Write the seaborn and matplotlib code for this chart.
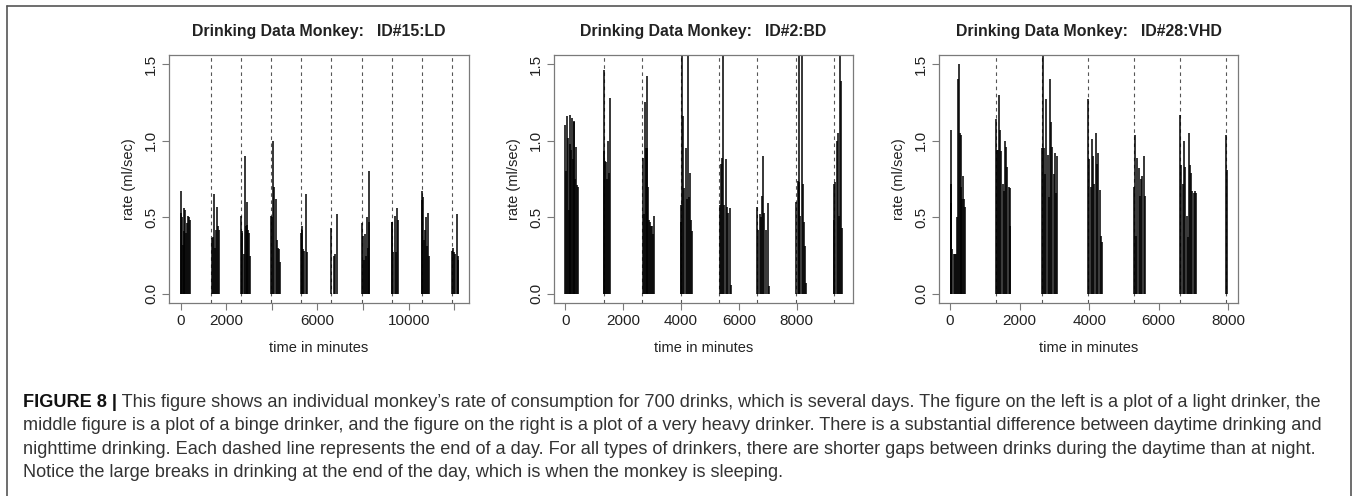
import matplotlib
matplotlib.use("Agg")
import matplotlib.pyplot as plt
from matplotlib.lines import Line2D
import pandas as pd
import seaborn as sns

# ---- drink events: time (minutes) and rate (ml/sec) for each monkey ----
ld_minutes = [0, 29, 73, 102, 132, 161, 205, 234, 278, 322, 365, 409,
              1374, 1418, 1462, 1520, 1564, 1608, 1652, 1696,
              2646, 2676, 2705, 2763, 2807, 2851, 2895, 2924, 2968, 3012, 3056,
              3977, 4020, 4064, 4108, 4167, 4211, 4254, 4298, 4357,
              5292, 5310, 5336, 5380, 5424, 5512, 5541,
              6608, 6725, 6769, 6871,
              7939, 7983, 8026, 8070, 8114, 8158, 8202, 8246, 8275,
              9254, 9284, 9327, 9386, 9430, 9474, 9547,
              10570, 10585, 10614, 10673, 10716, 10760, 10804, 10848, 10892,
              11901, 11959, 12003, 12047, 12105, 12149, 12179]
ld_rate = [0.67, 0.53, 0.50, 0.32, 0.41, 0.56, 0.55, 0.40, 0.46, 0.51, 0.50, 0.485,
           0.365, 0.37, 0.65, 0.30, 0.42, 0.57, 0.44, 0.42,
           0.51, 0.40, 0.41, 0.26, 0.90, 0.44, 0.60, 0.45, 0.42, 0.40, 0.245,
           0.51, 0.50, 1.00, 0.70, 0.62, 0.35, 0.30, 0.29, 0.21,
           0.40, 0.42, 0.44, 0.29, 0.28, 0.65, 0.27,
           0.43, 0.25, 0.26, 0.52,
           0.46, 0.38, 0.22, 0.39, 0.245, 0.50, 0.30, 0.80, 0.47,
           0.47, 0.47, 0.27, 0.51, 0.27, 0.56, 0.485,
           0.61, 0.67, 0.63, 0.35, 0.42, 0.50, 0.31, 0.53, 0.245,
           0.28, 0.30, 0.27, 0.26, 0.52, 0.245, 0.22]
ld_day_ends = [1322, 2645, 3968, 5284, 6606, 7938, 9247, 10570, 11892]

bd_minutes = [0, 23, 57, 92, 115, 149, 172, 207, 230, 264, 287, 310, 344, 367, 402, 425,
              1332, 1343, 1378, 1412, 1447, 1470, 1504, 1561,
              2675, 2721, 2755, 2790, 2813, 2836, 2870, 2905, 2928, 2962, 2985, 3019, 3065,
              3995, 4018, 4052, 4087, 4121, 4167, 4213, 4248, 4282, 4316, 4351, 4397,
              5338, 5384, 5430, 5464, 5487, 5545, 5602, 5637, 5683, 5717,
              6636, 6681, 6716, 6762, 6808, 6842, 6888, 6946, 7003, 7049,
              7979, 8036, 8070, 8093, 8128, 8174, 8208, 8254, 8289, 8323,
              9276, 9299, 9333, 9379, 9425, 9448, 9494, 9540, 9574]
bd_rate = [1.10, 0.80, 1.16, 1.02, 0.55, 0.98, 1.165, 0.94, 1.15, 0.88, 1.13, 1.12, 0.75, 0.96, 0.71, 0.70,
           0.93, 1.46, 0.87, 0.86, 0.75, 1.00, 0.79, 1.28,
           0.89, 0.52, 1.25, 0.95, 1.42, 0.95, 0.70, 0.48, 0.47, 0.44, 0.44, 0.39, 0.51,
           0.58, 0.47, 1.80, 1.16, 0.69, 0.95, 0.62, 1.90, 0.63, 0.79, 0.48, 0.41,
           0.58, 0.85, 0.885, 1.90, 0.58, 0.88, 0.57, 0.53, 0.56, 0.06,
           0.57, 0.42, 0.52, 0.50, 0.64, 0.90, 0.53, 0.42, 0.59, 0.05,
           0.60, 0.74, 1.85, 0.73, 0.51, 1.85, 0.72, 0.47, 0.31, 0.07,
           0.48, 0.72, 0.73, 1.00, 1.05, 0.51, 1.90, 1.39, 0.43]
bd_day_ends = [1340, 2662, 3986, 5304, 6626, 7966, 9278]

vhd_minutes = [19, 29, 38, 67, 105, 144, 172, 192, 220, 249, 278, 307, 326, 355, 383, 412, 431,
               1322, 1351, 1389, 1418, 1447, 1475, 1514, 1552, 1581, 1619, 1648, 1686, 1715, 1734,
               2654, 2663, 2692, 2730, 2769, 2807, 2845, 2884, 2912, 2941, 2979, 3018, 3056, 3075,
               3976, 4004, 4043, 4081, 4110, 4148, 4187, 4225, 4263, 4301, 4330, 4369,
               5298, 5326, 5355, 5384, 5422, 5461, 5489, 5528, 5566, 5595,
               6620, 6649, 6687, 6735, 6764, 6802, 6831, 6869, 6898, 6926, 6965, 7003, 7032, 7061,
               7942, 7961]
vhd_rate = [1.07, 0.72, 0.59, 0.29, 0.26, 0.26, 0.26, 0.50, 1.40, 1.50, 1.05, 1.04, 0.70, 0.62, 0.77, 0.62, 0.57,
            1.14, 0.94, 0.94, 1.30, 1.07, 0.93, 0.72, 0.67, 1.00, 0.96, 0.83, 0.70, 0.69, 0.44,
            0.95, 1.58, 0.95, 0.78, 1.27, 0.91, 0.63, 1.40, 1.12, 0.96, 0.78, 0.92, 0.66, 0.90,
            1.27, 0.88, 0.70, 1.01, 0.90, 0.72, 1.05, 0.85, 0.92, 0.68, 0.38, 0.34,
            0.70, 1.04, 0.38, 0.89, 0.82, 0.64, 0.75, 0.77, 0.90, 0.64,
            1.17, 0.84, 0.72, 1.00, 0.83, 0.51, 0.37, 1.05, 0.84, 0.79, 0.67, 0.66, 0.67, 0.66,
            1.04, 0.81]
vhd_day_ends = [1326, 2654, 3976, 5294, 6620, 7942]

monkeys = ["ID#15:LD", "ID#2:BD", "ID#28:VHD"]
x_ticks = [list(range(0, 12001, 2000)), list(range(0, 8001, 2000)), list(range(0, 8001, 2000))]
x_tick_labels = [["0", "2000", "", "6000", "", "10000", ""],
                 ["0", "2000", "4000", "6000", "8000"],
                 ["0", "2000", "4000", "6000", "8000"]]
y_ticks = [0.0, 0.5, 1.0, 1.5]
y_tick_labels = ["0.0", "0.5", "1.0", "1.5"]

caption_bold = "FIGURE 8 |"
caption_lines = [
    " This figure shows an individual monkey\u2019s rate of consumption for 700 drinks, which is several days. The figure on the left is a plot of a light drinker, the",
    "middle figure is a plot of a binge drinker, and the figure on the right is a plot of a very heavy drinker. There is a substantial difference between daytime drinking and",
    "nighttime drinking. Each dashed line represents the end of a day. For all types of drinkers, there are shorter gaps between drinks during the daytime than at night.",
    "Notice the large breaks in drinking at the end of the day, which is when the monkey is sleeping.",
]

# ---- assemble ----
df = pd.concat([
    pd.DataFrame({"monkey": monkeys[0], "minutes": ld_minutes, "rate": ld_rate}),
    pd.DataFrame({"monkey": monkeys[1], "minutes": bd_minutes, "rate": bd_rate}),
    pd.DataFrame({"monkey": monkeys[2], "minutes": vhd_minutes, "rate": vhd_rate}),
], ignore_index=True)
day_ends = {monkeys[0]: ld_day_ends, monkeys[1]: bd_day_ends, monkeys[2]: vhd_day_ends}

sns.set_theme(style="white")
plt.rcParams["font.family"] = ["Liberation Sans", "DejaVu Sans"]

W, H = 1358, 496
BOX = "#7a7a7a"
TXT = "#222222"


def spikes(data, **kws):
    ax = plt.gca()
    for d in day_ends[data["monkey"].iloc[0]]:
        ax.axvline(d, color="#555555", lw=0.8, ls=(0, (3.2, 3.2)), zorder=1)
    ax.vlines(data["minutes"], 0, data["rate"], color="black", lw=1.1, zorder=2)


g = sns.FacetGrid(df, col="monkey", col_order=monkeys, sharex=False, sharey=False,
                  despine=False, height=4, aspect=1)
g.map_dataframe(spikes)

fig = g.figure
fig.set_size_inches(W / 100, H / 100)

# axes boxes in pixels: left, right; shared top and bottom
boxes = [(169, 469), (554, 853), (939, 1238)]
top_px, bot_px = 55, 303
xlims = [(-513, 12645), (-391, 9949), (-316, 8278)]

for i, ax in enumerate(g.axes.flat):
    l, r = boxes[i]
    ax.set_position([l / W, 1 - bot_px / H, (r - l) / W, (bot_px - top_px) / H])
    ax.set_xlim(*xlims[i])
    ax.set_ylim(-0.06, 1.56)
    ax.set_xticks(x_ticks[i], labels=x_tick_labels[i])
    ax.set_yticks(y_ticks, labels=y_tick_labels)
    for lbl in ax.get_yticklabels():
        lbl.set_rotation(90)
        lbl.set_va("center")
    ax.tick_params(bottom=True, left=True, direction="out", length=5, width=0.8,
                   color=BOX, labelsize=11, labelcolor=TXT, pad=3)
    for s in ax.spines.values():
        s.set_color(BOX)
        s.set_linewidth(0.9)
    ax.set_xlabel("time in minutes", fontsize=10.5, color=TXT, labelpad=9)
    ax.set_ylabel("rate (ml/sec)", fontsize=10.5, color=TXT, labelpad=6)
    ax.set_title("Drinking Data Monkey:   " + monkeys[i], fontsize=11.4,
                 fontweight="bold", color=TXT, pad=14)
    ax.grid(False)

# frame around the figure block
frame_kw = dict(color="#555555", lw=1.2, transform=fig.transFigure)
fig.add_artist(Line2D([7 / W, 7 / W], [0, 1 - 6 / H], **frame_kw))
fig.add_artist(Line2D([7 / W, 1351 / W], [1 - 6 / H, 1 - 6 / H], **frame_kw))
fig.add_artist(Line2D([1351 / W, 1351 / W], [0, 1 - 6 / H], **frame_kw))

# caption: size chosen so the longest line spans the text block width
renderer = fig.canvas.get_renderer()
probe = fig.text(0, 0, caption_lines[1], fontsize=11)
cap_size = 11 * 1298 / probe.get_window_extent(renderer).width
probe.remove()

left_px = 23
baselines = [407, 430.3, 453.6, 477]
t0 = fig.text(left_px / W, 1 - baselines[0] / H, caption_bold, fontsize=cap_size,
              fontweight="bold", color="#111111", va="baseline", ha="left")
bw = t0.get_window_extent(renderer).width
for k, txt in enumerate(caption_lines):
    x0 = left_px + (bw if k == 0 else 0)
    fig.text(x0 / W, 1 - baselines[k] / H, txt, fontsize=cap_size, color="#333333",
             va="baseline", ha="left")

fig.savefig("out.png", dpi=100)
